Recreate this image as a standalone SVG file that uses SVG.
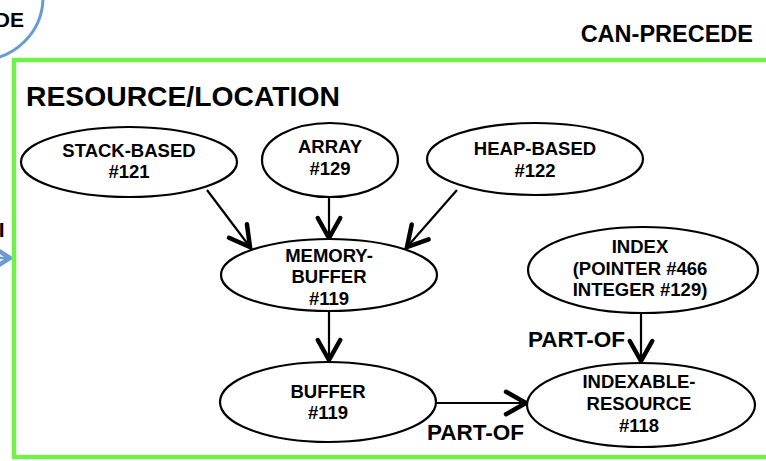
<svg xmlns="http://www.w3.org/2000/svg" width="766" height="461" viewBox="0 0 766 461">
<style>
text{font-family:"Liberation Sans",Arial,sans-serif;font-weight:bold;fill:#000}
.n ellipse{fill:#fff;stroke:#000;stroke-width:2.2}
.n text{font-size:18.5px;text-anchor:middle}
.c line{stroke:#000;stroke-width:2.2}
.lbl{font-size:22.5px}
</style>
<defs>
<marker id="ah" markerUnits="userSpaceOnUse" markerWidth="30" markerHeight="30" refX="0" refY="0" viewBox="-20 -12 24 24" orient="auto" overflow="visible">
<path d="M-16,-9 L0,0 L-16,9" fill="none" stroke="#000" stroke-width="3.6" stroke-linecap="round" stroke-linejoin="miter"/>
</marker>
<marker id="ahb" markerUnits="userSpaceOnUse" markerWidth="30" markerHeight="30" refX="0" refY="0" viewBox="-20 -12 24 24" orient="auto" overflow="visible">
<path d="M-14,-9 L0,0 L-14,9" fill="none" stroke="#6a9ad2" stroke-width="3.6" stroke-linecap="round"/>
</marker>
</defs>
<rect width="766" height="461" fill="#fff"/>

<g id="offscreen">
<circle cx="-20" cy="-3" r="63" fill="none" stroke="#6a9ad2" stroke-width="3"/>
<text x="24" y="27" font-size="21" text-anchor="end">DE</text>
<text x="4.5" y="237" font-size="21" text-anchor="end">I</text>
<line x1="-20" y1="258" x2="10" y2="258" stroke="#6a9ad2" stroke-width="2.5" marker-end="url(#ahb)"/>
</g>

<g id="container">
<rect x="14" y="60" width="800" height="397" fill="none" stroke="#74f04a" stroke-width="4.5"/>
<text x="753" y="42" font-size="23.5" text-anchor="end">CAN-PRECEDE</text>
<text x="26" y="106" font-size="28.3">RESOURCE/LOCATION</text>
</g>

<g class="c" id="connectors">
<line x1="207" y1="190" x2="250" y2="247" marker-end="url(#ah)"/>
<line x1="329" y1="197" x2="329" y2="238" marker-end="url(#ah)"/>
<line x1="457" y1="190" x2="407" y2="247" marker-end="url(#ah)"/>
<line x1="329" y1="311" x2="329" y2="360" marker-end="url(#ah)"/>
<line x1="436" y1="403" x2="526" y2="403" marker-end="url(#ah)"/>
<line x1="641" y1="313" x2="641" y2="361" marker-end="url(#ah)"/>
<text class="lbl" x="528" y="347">PART-OF</text>
<text class="lbl" x="427" y="440">PART-OF</text>
</g>

<g class="n" id="stack-based">
<ellipse cx="129" cy="162" rx="108" ry="35"/>
<text x="129" y="157">STACK-BASED</text>
<text x="129" y="178">#121</text>
</g>
<g class="n" id="array">
<ellipse cx="330" cy="160" rx="68" ry="37"/>
<text x="330" y="153">ARRAY</text>
<text x="330" y="175">#129</text>
</g>
<g class="n" id="heap-based">
<ellipse cx="535" cy="159" rx="108" ry="36"/>
<text x="535" y="155">HEAP-BASED</text>
<text x="535" y="177">#122</text>
</g>
<g class="n" id="memory-buffer">
<ellipse cx="329" cy="275" rx="108" ry="36"/>
<text x="329" y="262">MEMORY-</text>
<text x="329" y="283">BUFFER</text>
<text x="329" y="305">#119</text>
</g>
<g class="n" id="buffer">
<ellipse cx="328" cy="402" rx="108" ry="40"/>
<text x="328" y="398">BUFFER</text>
<text x="328" y="419">#119</text>
</g>
<g class="n" id="index">
<ellipse cx="643" cy="270" rx="115" ry="43"/>
<text x="640" y="253">INDEX</text>
<text x="640" y="275">(POINTER #466</text>
<text x="640" y="296">INTEGER #129)</text>
</g>
<g class="n" id="indexable-resource">
<ellipse cx="641" cy="405" rx="114" ry="42"/>
<text x="639" y="388">INDEXABLE-</text>
<text x="639" y="410">RESOURCE</text>
<text x="639" y="432">#118</text>
</g>
</svg>
